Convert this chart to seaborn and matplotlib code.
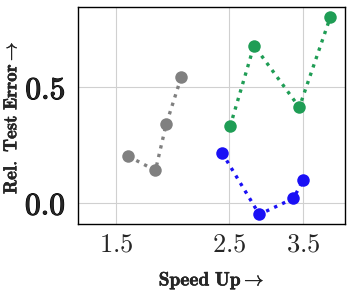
import matplotlib
matplotlib.use("Agg")
from matplotlib import pyplot as plt
from matplotlib import patheffects as pe
from matplotlib.ticker import FixedLocator, NullLocator
import seaborn as sns
import pandas as pd

# values
gray_speed = [1.586, 1.792, 1.881, 2.013]
gray_err = [0.202, 0.141, 0.340, 0.543]
green_speed = [2.512, 2.800, 3.437, 3.954]
green_err = [0.331, 0.681, 0.414, 0.803]
blue_speed = [2.423, 2.868, 3.345, 3.499]
blue_err = [0.217, -0.049, 0.020, 0.099]

x_ticks = [1.5, 2.5, 3.5]
y_ticks = [0.0, 0.5]

series = [("gray", gray_speed, gray_err, "#808080"),
          ("green", green_speed, green_err, "#1f9d55"),
          ("blue", blue_speed, blue_err, "#1a10f5")]

sns.set_style("whitegrid")
plt.rcParams["mathtext.fontset"] = "cm"

fig = plt.figure(figsize=(3.52, 2.96), dpi=100)
ax = fig.add_axes([0.222, 0.243, 0.758, 0.733])

for name, xs, ys, col in series:
    df = pd.DataFrame({"speed": xs, "err": ys})
    sns.lineplot(data=df, x="speed", y="err", ax=ax, color=col, linestyle=":",
                 linewidth=2.4, marker="o", markersize=9, markeredgewidth=0,
                 sort=False)

ax.set_xscale("log")
ax.set_xlim(1.263, 4.226)
ax.set_ylim(-0.0907, 0.847)
ax.xaxis.set_major_locator(FixedLocator(x_ticks))
ax.xaxis.set_minor_locator(NullLocator())
ax.set_xticklabels([r"$%.1f$" % v for v in x_ticks], fontsize=19)
ax.set_yticks(y_ticks)
ax.set_yticklabels([r"$\mathbf{%.1f}$" % v for v in y_ticks], fontsize=22.5)
ax.tick_params(axis="x", length=3, color="#cccccc", pad=2)
ax.tick_params(axis="y", length=0, pad=9)

bold = [pe.withStroke(linewidth=0.8, foreground="black")]
for t in ax.get_yticklabels():
    t.set_path_effects(bold)

xl = ax.set_xlabel(r"$\mathbf{Speed\ Up}\rightarrow$", fontsize=14, labelpad=9)
yl = ax.set_ylabel(r"$\mathbf{Rel.\ Test\ Error}\rightarrow$", fontsize=13.5)
ax.yaxis.set_label_coords(-0.252, 0.49)
yl.set_verticalalignment("center")
thin = [pe.withStroke(linewidth=0.3, foreground="black")]
xl.set_path_effects(thin)
yl.set_path_effects(thin)

ax.grid(True, color="#d0d0d0", linewidth=0.8)
for s in ax.spines.values():
    s.set_color("black")
    s.set_linewidth(1.0)

fig.savefig("out.png", dpi=100)
